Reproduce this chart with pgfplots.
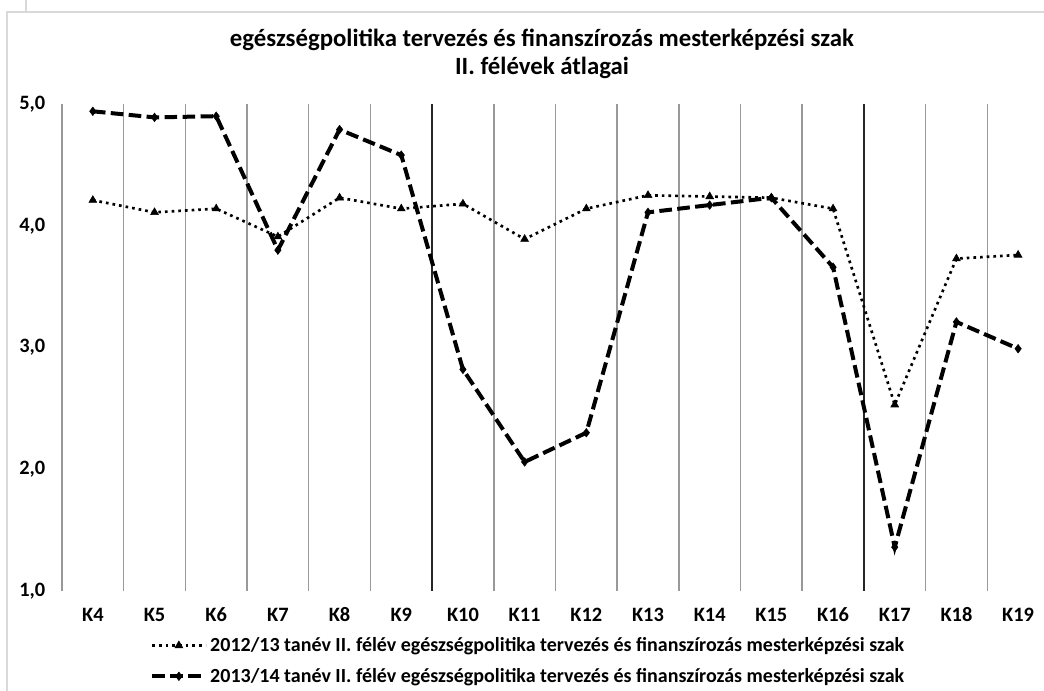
\documentclass[border=0pt]{standalone}
\usepackage{fontspec}
\setmainfont{Carlito}
\usepackage{pgfplots}
\pgfplotsset{compat=1.18}
\usepackage{pgfplotstable}

\pgfplotstableread{
x y
0 4.21
1 4.11
2 4.14
3 3.91
4 4.23
5 4.14
6 4.18
7 3.89
8 4.14
9 4.25
10 4.24
11 4.23
12 4.14
13 2.53
14 3.73
15 3.76
}\seriesA
\pgfplotstableread{
x y
0 4.94
1 4.89
2 4.90
3 3.80
4 4.79
5 4.58
6 2.82
7 2.06
8 2.30
9 4.11
10 4.17
11 4.23
12 3.66
13 1.36
14 3.21
15 2.99
}\seriesB

\begin{document}
\begin{tikzpicture}[x=0.75pt,y=-0.75pt]
\useasboundingbox (0,0) rectangle (1044,691);
\fill[white] (0,0) rectangle (1044,691);
\draw[black!15, line width=2pt] (7,691) -- (7,12) -- (1044,12);
\draw[black!15, line width=1.5pt] (26,0) -- (26,12);
\node[font=\fontsize{18.6}{22}\selectfont\bfseries] at (542,40) {egészségpolitika tervezés és finanszírozás mesterképzési szak};
\node[font=\fontsize{18.6}{22}\selectfont\bfseries] at (542,68) {II. félévek átlagai};
\coordinate (ax) at (62,591);
\begin{axis}[
  at={(ax)}, anchor=south west, scale only axis,
  width=736.5pt, height=365.25pt,
  xmin=-0.5, xmax=15.42, ymin=1, ymax=5,
  axis lines=left, separate axis lines,
  axis line style={-},
  x axis line style={draw=none},
  y axis line style={draw=black!40, line width=1pt},
  font=\fontsize{15.3}{18}\selectfont\bfseries,
  xtick={0,...,15},
  xticklabels={K4,K5,K6,K7,K8,K9,K10,K11,K12,K13,K14,K15,K16,K17,K18,K19},
  minor xtick={0.5,1.5,...,14.5},
  xminorgrids=true,
  minor grid style={black!40, line width=1.1pt},
  extra x ticks={5.5,12.5},
  extra x tick labels={},
  extra x tick style={grid=major, major grid style={black!85, line width=1.1pt}},
  major tick length=0pt, minor tick length=0pt,
  ytick={1,2,3,4,5},
  /pgf/number format/fixed, /pgf/number format/fixed zerofill,
  /pgf/number format/precision=1, /pgf/number format/use comma,
  /pgf/number format/assume math mode=true,
  xticklabel style={yshift=-9pt, text height=10pt, text depth=0pt},
  yticklabel style={xshift=-9pt},
  legend style={at={(axis description cs:0.0855,-0.084)}, anchor=north west, draw=none, fill=none,
    font=\fontsize{15}{18}\selectfont\bfseries, row sep=7pt, nodes={inner xsep=2pt}},
  legend cell align=left,
  legend image code/.code={\draw[mark repeat=2,mark phase=2,#1] plot coordinates {(0pt,0pt)(20pt,0pt)(40pt,0pt)};},
]
\addplot[black, line width=2pt, dash pattern=on 2pt off 3pt, mark=triangle*, mark size=3.4pt, mark options={solid, line width=0.4pt}] table {\seriesA};
\addlegendentry{2012/13 tanév II. félév egészségpolitika tervezés és finanszírozás mesterképzési szak}
\addplot[black, line width=3pt, dash pattern=on 9.5pt off 4pt, mark=diamond*, mark size=3.2pt, mark options={solid, line width=0.4pt}] table {\seriesB};
\addlegendentry{2013/14 tanév II. félév egészségpolitika tervezés és finanszírozás mesterképzési szak}
\end{axis}
\end{tikzpicture}
\end{document}
